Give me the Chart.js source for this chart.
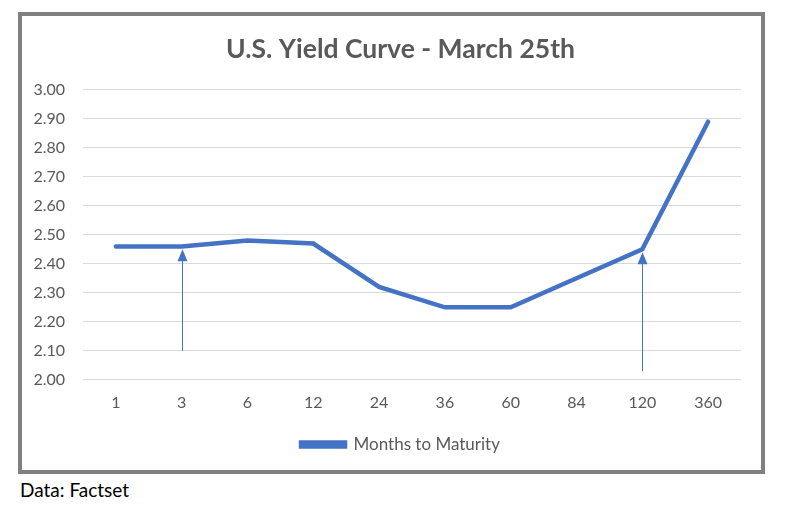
<!DOCTYPE html>
<html><head><meta charset="utf-8">
<script src="https://cdn.jsdelivr.net/npm/chart.js@4"></script>
<style>
body{margin:0;background:#fff;width:803px;height:507px;position:relative;overflow:hidden;font-family:"Lato",sans-serif;}
#box{position:absolute;left:18px;top:12px;width:739px;height:454px;border:4px solid #808080;background:#fff;}
#c{display:block;}
#src{position:absolute;left:20px;top:478px;font-size:19px;color:#000;}
</style></head><body>
<div id="box"><canvas id="c" width="739" height="454"></canvas></div>
<div id="src">Data: Factset</div>
<script>
const categories = ['1','3','6','12','24','36','60','84','120','360'];
const yields = [2.46, 2.46, 2.48, 2.47, 2.32, 2.25, 2.25, 2.35, 2.45, 2.89];
const yTicks = [2.0, 2.1, 2.2, 2.3, 2.4, 2.5, 2.6, 2.7, 2.8, 2.9, 3.0];
const arrowCats = ['3', '120'];
const arrowFrom = [2.10, 2.03];
const arrowTo = [2.45, 2.44];

const FONT = '"Lato",sans-serif';
const BLUE = '#4472C4';

const arrowPlugin = {
  id: 'arrows',
  afterDatasetsDraw(chart) {
    const ctx = chart.ctx, xs = chart.scales.x, ys = chart.scales.y;
    ctx.save();
    ctx.strokeStyle = BLUE; ctx.fillStyle = BLUE; ctx.lineWidth = 1;
    arrowCats.forEach((c, i) => {
      const x = Math.round(xs.getPixelForValue(categories.indexOf(c))) + 0.5;
      const y0 = ys.getPixelForValue(arrowFrom[i]);
      const y1 = ys.getPixelForValue(arrowTo[i]);
      ctx.beginPath(); ctx.moveTo(x, y0); ctx.lineTo(x, y1 + 10); ctx.stroke();
      ctx.beginPath(); ctx.moveTo(x, y1); ctx.lineTo(x - 5, y1 + 12); ctx.lineTo(x + 5, y1 + 12); ctx.closePath(); ctx.fill();
    });
    ctx.restore();
  }
};

new Chart(document.getElementById('c'), {
  type: 'line',
  data: {
    labels: categories,
    datasets: [{
      label: 'Months to Maturity',
      data: yields,
      borderColor: BLUE,
      backgroundColor: BLUE,
      borderWidth: 4.5,
      pointRadius: 0,
      tension: 0,
      borderCapStyle: 'round',
      borderJoinStyle: 'miter'
    }]
  },
  options: {
    responsive: false,
    animation: false,
    layout: { padding: { left: 38, right: 20, top: 10, bottom: 7 } },
    plugins: {
      title: {
        display: true,
        text: 'U.S. Yield Curve - March 25th',
        color: '#595959',
        font: { family: FONT, size: 26.5, weight: 'bold' },
        padding: { top: 8, bottom: 24 }
      },
      legend: {
        position: 'bottom',
        labels: {
          color: '#595959',
          font: { family: FONT, size: 17 },
          boxWidth: 44, boxHeight: 4, padding: 8
        }
      },
      tooltip: { enabled: false }
    },
    scales: {
      x: {
        offset: true,
        grid: { display: false, drawTicks: false },
        border: { display: false },
        ticks: { color: '#595959', font: { family: FONT, size: 16 }, padding: 13 },
        afterFit(scale) { scale.height += 3; }
      },
      y: {
        min: 2.0, max: 3.0,
        afterBuildTicks(scale) { scale.ticks = yTicks.map(v => ({ value: v })); },
        afterFit(scale) { scale.width = 23; scale._computeLabelArea = () => undefined; },
        grid: { color: '#d9d9d9', lineWidth: 1, drawTicks: false },
        border: { display: false },
        ticks: { color: '#595959', font: { family: FONT, size: 16 }, padding: 18,
                 callback: v => Number(v).toFixed(2) }
      }
    }
  },
  plugins: [arrowPlugin]
});
</script>
</body></html>
